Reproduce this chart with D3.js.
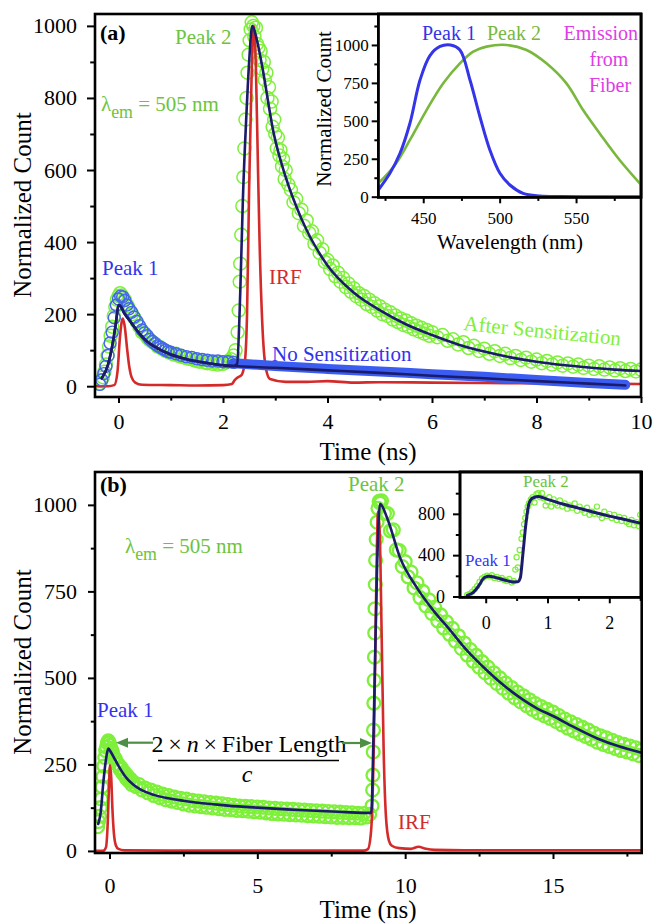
<!DOCTYPE html>
<html><head><meta charset="utf-8">
<script src="https://cdn.jsdelivr.net/npm/d3@7"></script>
<style>body{margin:0;background:#fff}svg{display:block}</style>
</head><body><svg id="c" width="656" height="924"></svg>
<script>
// ---------------- Panel (a) data ----------------
const irfA = [[-0.45,0],[-0.2,0],[-0.08,3],[-0.02,40],[0.03,140],[0.08,188],[0.12,165],[0.16,110],[0.2,60],[0.25,25],[0.32,10],[0.45,4],[1.0,3],[1.5,2],[2.0,3],[2.17,6],[2.22,16],[2.28,24],[2.36,32],[2.42,70],[2.46,200],[2.5,550],[2.55,880],[2.59,1000],[2.63,880],[2.67,600],[2.7,400],[2.75,180],[2.82,50],[2.9,20],[3.2,12],[3.6,12],[4,14],[4.5,10],[5,11],[6,10],[7,9],[8,8],[9,7],[10,6]];
const fitA_after = [[-0.32,22],[-0.2,60],[-0.1,128],[-0.05,175],[0,225],[0.05,220],[0.1,205],[0.2,185],[0.3,165],[0.5,130],[0.75,105],[1.0,88],[1.25,77],[1.5,69],[1.75,63],[2.0,58],[2.2,56],[2.27,62],[2.33,260],[2.38,517],[2.45,760],[2.5,900],[2.56,1000],[2.65,960],[2.75,887],[2.97,702],[3.2,580],[3.5,465],[4,335],[4.5,260],[5,211],[5.5,172],[6,142],[6.5,116],[7,96],[7.5,80],[8,68],[8.5,59],[9,52],[9.5,46],[10,42]];
const fitA_noSens = [[-0.32,22],[-0.2,60],[-0.1,128],[-0.05,175],[0,225],[0.05,220],[0.1,205],[0.2,185],[0.3,165],[0.5,130],[0.75,105],[1.0,88],[1.25,77],[1.5,69],[1.75,63],[2.0,58],[2.2,56],[3,51],[4,44],[5,37],[6,29],[7,22],[8,14],[9,7],[9.7,2]];
const greenA = [[-0.36,8],[-0.33,15],[-0.3,25],[-0.27,40],[-0.24,60],[-0.21,85],[-0.18,110],[-0.15,140],[-0.12,165],[-0.09,195],[-0.06,220],[-0.03,240],[0.0,250],[0.03,258],[0.06,252],[0.09,245],[0.12,240],[0.15,228],[0.18,222],[0.22,210],[0.26,200],[0.3,190],[0.35,178],[0.4,165],[0.45,150],[0.5,145],[0.55,135],[0.6,128],[0.65,122],[0.7,118],[0.75,110],[0.8,108],[0.85,102],[0.9,98],[0.95,95],[1.0,92],[1.05,88],[1.1,90],[1.15,84],[1.2,82],[1.25,80],[1.3,78],[1.35,76],[1.4,78],[1.45,72],[1.5,70],[1.55,68],[1.6,72],[1.65,66],[1.7,64],[1.75,68],[1.8,62],[1.85,66],[1.9,60],[1.95,64],[2.0,62],[2.05,66],[2.1,70],[2.15,75],[2.2,85],[2.24,100],
 [2.28,150],[2.3,210],[2.32,290],[2.33,340],[2.35,420],[2.37,500],[2.39,580],[2.41,660],[2.43,740],[2.45,800],[2.47,870],[2.49,920],[2.51,960],[2.53,990],[2.55,1010],
 [2.58,1000],[2.6,970],[2.63,995],[2.65,950],[2.68,940],[2.7,905],[2.72,930],[2.75,880],[2.78,900],[2.8,850],[2.83,870],[2.85,800],[2.88,830],[2.9,770],[2.93,790],[2.95,720],[2.98,740],[3.0,700],[3.03,660],[3.05,690],[3.08,640],[3.1,655],[3.13,610],[3.15,630],[3.18,575],[3.2,600],[3.25,560],[3.3,545],[3.35,510],[3.4,520],[3.45,480],[3.5,490],[3.55,445],[3.6,460],[3.65,425],[3.7,430],[3.75,395],[3.8,405],[3.85,370],[3.9,380],[3.95,345],[4.0,350],[4.05,325],[4.1,335],[4.15,305],[4.2,315],[4.25,290],[4.3,300],[4.35,275],[4.4,285],[4.45,262],[4.5,272],[4.55,250],[4.6,258],[4.65,240],[4.7,250],[4.75,228],[4.8,240],[4.85,220],[4.9,230],[4.95,210],[5.0,222],[5.05,200],[5.1,212],[5.15,195],[5.2,205],[5.25,185],[5.3,196],[5.35,178],[5.4,188],[5.45,170],[5.5,182],[5.55,165],[5.6,175],[5.65,158],[5.7,168],[5.75,152],[5.8,162],[5.85,146],[5.9,156],[5.95,140],[6.0,150],[6.1,136],[6.2,142],[6.3,126],[6.4,130],[6.5,116],[6.6,122],[6.7,106],[6.8,112],[6.9,98],[7.0,104],[7.1,90],[7.2,97],[7.3,84],[7.4,90],[7.5,78],[7.6,84],[7.7,73],[7.8,79],[7.9,68],[8.0,74],[8.1,64],[8.2,70],[8.3,60],[8.4,66],[8.5,57],[8.6,63],[8.7,54],[8.8,60],[8.9,51],[9.0,57],[9.1,48],[9.2,55],[9.3,46],[9.4,52],[9.5,44],[9.6,50],[9.7,42],[9.8,48],[9.9,41],[10.0,46]];
const blueA = [[-0.36,5],[-0.32,18],[-0.28,35],[-0.24,55],[-0.2,85],[-0.16,120],[-0.12,150],[-0.08,190],[-0.04,225],[0,242],[0.04,250],[0.08,248],[0.12,238],[0.16,225],[0.2,215],[0.25,205],[0.3,192],[0.35,180],[0.4,168],[0.45,156],[0.5,148],[0.55,140],[0.6,130],[0.65,124],[0.7,118],[0.75,112],[0.8,108],[0.85,104],[0.9,100],[0.95,96],[1.0,94],[1.1,90],[1.2,86],[1.3,82],[1.4,80],[1.5,76],[1.6,74],[1.7,72],[1.8,70],[1.9,70],[2.0,68],[2.1,68],[2.2,66]];
const blueA_tail = [[2.2,64],[3,56],[4,48],[5,41],[6,33],[7,26],[8,17],[9,9],[9.7,4]];
const ticksA_x = [0,2,4,6,8,10], minorA_x = [1,3,5,7,9];
const ticksA_y = [0,200,400,600,800,1000], minorA_y = [100,300,500,700,900];

// ---------------- Inset (a) data: emission spectra ----------------
const specPeak1 = [[420.6,44],[428.2,154],[434.8,286],[441.3,484],[447.9,769],[454.4,930],[461,990],[467.9,1000],[474,967],[480.6,769],[487.1,527],[493.6,308],[500.2,154],[506.7,77],[515.4,22],[526.3,5],[540,1],[560,0],[592.7,0]];
const specPeak2 = [[420.6,88],[431.5,209],[441.3,374],[452.2,571],[463.1,747],[474,879],[482.7,956],[491.4,989],[504.5,1000],[517.6,967],[530.6,879],[543.7,747],[554.6,571],[565.5,417],[578.5,242],[592.7,77]];
const ticksIA_x = [450,500,550], minorIA_x = [425,475,525,575];
const ticksIA_y = [0,250,500,750,1000], minorIA_y = [125,375,625,875,1125];

// ---------------- Panel (b) data ----------------
const irfB = [[-0.45,0],[-0.22,0],[-0.12,10],[-0.06,80],[-0.02,180],[0.02,248],[0.06,210],[0.1,120],[0.15,50],[0.22,15],[0.3,6],[0.5,2],[2,1],[5,1],[8.6,1],[8.74,5],[8.85,60],[8.95,350],[9.02,750],[9.08,980],[9.14,920],[9.2,650],[9.27,300],[9.35,100],[9.45,30],[9.55,15],[9.8,8],[10.2,6],[10.45,12],[10.7,6],[11,3],[12,2],[18,2]];
const fitB = [[-0.38,78],[-0.3,110],[-0.2,205],[-0.1,275],[-0.04,296],[0.05,285],[0.2,262],[0.4,232],[0.6,208],[0.8,192],[1.0,180],[1.5,162],[2,152],[2.5,145],[3,139],[3.5,135],[4,131],[5,125],[6,120],[7,116],[8,112],[8.85,110],[8.95,420],[9.05,820],[9.15,1003],[9.4,960],[9.82,849],[10.4,760],[10.95,695],[11.5,640],[12.08,580],[12.6,535],[13.2,488],[13.8,448],[14.5,410],[15,390],[15.68,359],[16.5,325],[17.2,303],[18,284]];
const greenB = [[-0.4,70],[-0.37,85],[-0.34,100],[-0.31,125],[-0.28,150],[-0.25,185],[-0.22,215],[-0.19,245],[-0.16,270],[-0.13,290],[-0.1,300],[-0.07,312],[-0.04,318],[-0.01,312],[0.02,305],[0.05,296],[0.08,290],[0.11,282],[0.15,272],[0.2,266],[0.25,252],[0.3,250],[0.35,236],[0.4,240],[0.45,224],[0.5,228],[0.55,212],[0.6,218],[0.65,202],[0.7,208],[0.75,192],[0.8,200],[0.9,186],[1.0,192],[1.1,176],[1.2,182],[1.3,168],[1.4,176],[1.5,160],[1.6,170],[1.7,154],[1.8,164],[1.9,148],[2.0,160],[2.1,144],[2.2,156],[2.3,140],[2.4,152],[2.5,136],[2.6,150],[2.7,132],[2.8,146],[2.9,130],[3.0,144],[3.1,128],[3.2,142],[3.3,126],[3.4,140],[3.5,124],[3.6,138],[3.7,122],[3.8,136],[3.9,120],[4.0,134],[4.1,119],[4.2,132],[4.3,117],[4.4,130],[4.5,116],[4.6,129],[4.7,115],[4.8,128],[4.9,113],[5.0,127],[5.1,112],[5.2,126],[5.3,110],[5.4,124],[5.5,108],[5.6,123],[5.7,107],[5.8,122],[5.9,106],[6.0,121],[6.1,105],[6.2,120],[6.3,104],[6.4,119],[6.5,103],[6.6,118],[6.7,102],[6.8,117],[6.9,101],[7.0,116],[7.1,100],[7.2,115],[7.3,99],[7.4,114],[7.5,98],[7.6,113],[7.7,97],[7.8,112],[7.9,97],[8.0,111],[8.1,96],[8.2,110],[8.3,96],[8.4,109],[8.5,95],[8.6,108],[8.7,98],[8.8,106],
 [8.88,130],[8.9,176],[8.91,219],[8.92,286],[8.93,349],[8.94,427],[8.95,493],[8.96,560],[8.97,630],[8.98,700],[8.99,770],[9.0,840],[9.02,900],[9.05,950],[9.08,990],[9.12,1010],[9.16,1005],
 [9.2,1012],[9.3,975],[9.4,975],[9.5,925],[9.6,928],[9.7,870],[9.8,868],[9.9,822],[10.0,836],[10.1,792],[10.2,806],[10.3,760],[10.4,775],[10.5,732],[10.6,750],[10.7,708],[10.8,726],[10.9,686],[11.0,704],[11.1,665],[11.2,682],[11.3,644],[11.4,662],[11.5,626],[11.6,643],[11.7,606],[11.8,622],[11.9,585],[12.0,601],[12.1,566],[12.2,582],[12.3,548],[12.4,565],[12.5,531],[12.6,547],[12.7,515],[12.8,531],[12.9,499],[13.0,515],[13.1,484],[13.2,500],[13.3,470],[13.4,485],[13.5,456],[13.6,472],[13.7,443],[13.8,459],[13.9,431],[14.0,448],[14.1,420],[14.2,437],[14.3,409],[14.4,426],[14.5,399],[14.6,417],[14.7,391],[14.8,409],[14.9,383],[15.0,401],[15.1,374],[15.2,391],[15.3,364],[15.4,381],[15.5,355],[15.6,373],[15.7,347],[15.8,365],[15.9,339],[16.0,357],[16.1,331],[16.2,349],[16.3,323],[16.4,340],[16.5,314],[16.6,333],[16.7,308],[16.8,327],[16.9,302],[17.0,320],[17.1,296],[17.2,313],[17.3,290],[17.4,308],[17.5,286],[17.6,303],[17.7,281],[17.8,298],[17.9,276],[18.0,292]];
const ticksB_x = [0,5,10,15], minorB_x = [2.5,7.5,12.5,17.5];
const ticksB_y = [0,250,500,750,1000], minorB_y = [125,375,625,875];

// ---------------- Inset (b) data ----------------
const fitBi = [[-0.3,10],[-0.2,40],[-0.1,115],[-0.05,165],[0,190],[0.05,195],[0.15,185],[0.3,160],[0.45,141],[0.52,142],[0.56,180],[0.6,400],[0.65,700],[0.7,900],[0.75,950],[0.85,968],[1.0,940],[1.25,895],[1.5,855],[1.75,815],[2.0,778],[2.25,745],[2.5,710]];
const greenBi = [[-0.3,15],[-0.26,25],[-0.22,45],[-0.18,70],[-0.14,100],[-0.1,140],[-0.06,175],[-0.02,190],[0.02,200],[0.06,195],[0.1,205],[0.14,180],[0.18,190],[0.22,170],[0.26,180],[0.3,160],[0.34,150],[0.38,170],[0.42,135],[0.45,150],[0.48,260],[0.5,380],[0.52,280],[0.55,450],[0.58,560],[0.6,620],[0.62,700],[0.64,760],[0.66,820],[0.68,870],[0.7,900],[0.73,940],[0.76,960],[0.79,910],[0.82,990],[0.85,1000],[0.88,960],[0.91,1000],[0.94,950],[0.97,880],[1.0,920],[1.03,960],[1.06,870],[1.1,940],[1.13,900],[1.16,880],[1.2,930],[1.24,870],[1.28,900],[1.32,850],[1.36,880],[1.4,860],[1.44,900],[1.48,830],[1.52,870],[1.56,840],[1.6,810],[1.64,860],[1.68,790],[1.72,820],[1.76,800],[1.8,870],[1.84,790],[1.88,760],[1.92,820],[1.96,780],[2.0,800],[2.04,760],[2.08,790],[2.12,740],[2.16,770],[2.2,730],[2.24,760],[2.28,720],[2.32,700],[2.36,740],[2.4,690],[2.44,720],[2.48,680],[2.5,790]];
const ticksIB_x = [0,1,2], minorIB_x = [0.5,1.5,2.5];
const ticksIB_y = [0,400,800], minorIB_y = [200,600,1000];

// ---------------- Colours ----------------
const C = {navy:'#1b1b6b', red:'#d42a2a', lime:'#7ef03a', blueC:'#4466ee', band:'#3a5cf0',
  greenTxt:'#6cc43c', blueTxt:'#3333ee', magenta:'#e03ce6', specBlue:'#3434e8', specGreen:'#78b83c', arrow:'#4f8f45'};
const FONT = 'Liberation Serif';
const svg = d3.select('#c');

function frame(x, y, fill) {
  const [a,b] = x.range(), [c,d] = y.range();
  return svg.append('rect').attr('x',a).attr('y',d).attr('width',b-a).attr('height',c-d)
    .attr('fill', fill || 'none').attr('stroke','#000').attr('stroke-width',2.6);
}
function axis(gen, tr, vals, size, pad, fs, labels) {
  const g = svg.append('g').attr('transform', tr)
    .call(gen.tickValues(vals).tickSize(size).tickPadding(pad).tickSizeOuter(0)
      .tickFormat(labels ? d3.format('d') : ''));
  g.attr('font-family', null);
  g.select('.domain').remove();
  g.selectAll('line').attr('stroke','#000').attr('stroke-width',2);
  g.selectAll('text').attr('font-size',fs).style('font-family',FONT).attr('fill','#000');
  return g;
}
function axesFor(x, y, o) {
  const yb = y.range()[0], xl = x.range()[0];
  axis(d3.axisBottom(x), `translate(0,${yb})`, o.xMaj, o.xt, o.xpad, o.fs, true);
  axis(d3.axisBottom(x), `translate(0,${yb})`, o.xMin, o.xt*0.6, 0, o.fs, false);
  axis(d3.axisLeft(y), `translate(${xl},0)`, o.yMaj, o.yt, o.ypad, o.fs, true);
  axis(d3.axisLeft(y), `translate(${xl},0)`, o.yMin, o.yt*0.6, 0, o.fs, false);
}
let clipN = 0;
function clipG(x, y) {
  const id = 'cl' + (clipN++);
  const [a,b] = x.range(), [c,d] = y.range();
  svg.append('clipPath').attr('id',id).append('rect').attr('x',a).attr('y',d).attr('width',b-a).attr('height',c-d);
  return svg.append('g').attr('clip-path',`url(#${id})`);
}
function line(g, x, y, data, color, w, curve) {
  const l = d3.line().x(d=>x(d[0])).y(d=>y(d[1])).curve(curve || d3.curveMonotoneX);
  return g.append('path').datum(data).attr('d', l).attr('fill','none').attr('stroke',color)
    .attr('stroke-width',w).attr('stroke-linejoin','round').attr('stroke-linecap','round');
}
function circles(g, x, y, data, color, r, w) {
  g.append('g').selectAll('circle').data(data).join('circle')
    .attr('cx',d=>x(d[0])).attr('cy',d=>y(d[1])).attr('r',r)
    .attr('fill','none').attr('stroke',color).attr('stroke-width',w);
}
function txt(x, y, s, o) {
  o = o || {};
  return svg.append('text').attr('x',x).attr('y',y).text(s)
    .attr('font-size',o.fs||21).attr('fill',o.fill||'#000').style('font-family',FONT)
    .attr('text-anchor',o.anchor||'start').attr('font-weight',o.bold?'bold':null)
    .attr('font-style',o.italic?'italic':null);
}
function rtxt(tr, s, fs, fill) {
  return svg.append('text').attr('transform',tr).attr('text-anchor','middle')
    .attr('font-size',fs).style('font-family',FONT).attr('fill',fill||'#000').text(s);
}
function lambda(x, y, color, fs) {
  const t = svg.append('text').attr('x',x).attr('y',y).attr('font-size',fs).attr('fill',color).style('font-family',FONT);
  t.append('tspan').text('λ');
  t.append('tspan').text('em').attr('dy',7).attr('font-size',fs*0.85);
  t.append('tspan').text(' = 505 nm').attr('dy',-7);
}

// ================= Panel (a) =================
const xA = d3.scaleLinear().domain([-0.45,10]).range([95,641]);
const yA = d3.scaleLinear().domain([-30,1033]).range([397,14]);
{
  const g = clipG(xA, yA);
  circles(g, xA, yA, greenA, C.lime, 6.5, 1.5);
  line(g, xA, yA, irfA, C.red, 2.6);
  circles(g, xA, yA, blueA, C.blueC, 6, 1.4);
  line(g, xA, yA, blueA_tail, C.band, 10);
  line(g, xA, yA, fitA_noSens, C.navy, 2.6);
  line(g, xA, yA, fitA_after, C.navy, 2.6);
}
axesFor(xA, yA, {xMaj:ticksA_x, xMin:minorA_x, yMaj:ticksA_y, yMin:minorA_y, xt:6, yt:8, xpad:10, ypad:10, fs:22});
frame(xA, yA);
txt(368, 460, 'Time (ns)', {fs:25, anchor:'middle'});
rtxt('translate(31,205) rotate(-90)', 'Normalized Count', 25);
txt(100, 40, '(a)', {fs:22, bold:true});
txt(175, 44, 'Peak 2', {fill:C.greenTxt});
lambda(101, 111, C.greenTxt, 21);
txt(102, 275, 'Peak 1', {fill:C.blueTxt});
txt(269, 284, 'IRF', {fill:C.red});
txt(272, 361, 'No Sensitization', {fill:C.blueTxt});
svg.append('text').attr('transform','translate(463,330) rotate(5.6)').attr('font-size',21)
  .style('font-family',FONT).attr('fill',C.lime).text('After Sensitization');

// ---- Inset (a) ----
const xIA = d3.scaleLinear().domain([420.6,592.5]).range([378.3,641]);
const yIA = d3.scaleLinear().domain([-4,1204]).range([197.3,14]);
frame(xIA, yIA, '#fff');
{
  const g = clipG(xIA, yIA);
  line(g, xIA, yIA, specPeak2, C.specGreen, 2.6, d3.curveCatmullRom);
  line(g, xIA, yIA, specPeak1, C.specBlue, 3, d3.curveCatmullRom);
}
axesFor(xIA, yIA, {xMaj:ticksIA_x, xMin:minorIA_x, yMaj:ticksIA_y, yMin:minorIA_y, xt:6, yt:6.6, xpad:9, ypad:3, fs:17});
frame(xIA, yIA);
txt(510, 249, 'Wavelength (nm)', {fs:21, anchor:'middle'});
rtxt('translate(331,109) rotate(-90)', 'Normalized Count', 21);
txt(422, 40, 'Peak 1', {fill:C.specBlue, fs:20});
txt(487, 40, 'Peak 2', {fill:C.specGreen, fs:20});
txt(638, 40, 'Emission', {fill:C.magenta, fs:20, anchor:'end'});
txt(609, 66, 'from', {fill:C.magenta, fs:20, anchor:'middle'});
txt(610, 92, 'Fiber', {fill:C.magenta, fs:20, anchor:'middle'});

// ================= Panel (b) =================
const xB = d3.scaleLinear().domain([-0.49,18.0]).range([95,641.7]);
const yB = d3.scaleLinear().domain([-6,1095]).range([853,472]);
{
  const g = clipG(xB, yB);
  circles(g, xB, yB, greenB, C.lime, 6.4, 2.3);
  line(g, xB, yB, irfB, C.red, 2.6);
  line(g, xB, yB, fitB, C.navy, 2.6);
}
axesFor(xB, yB, {xMaj:ticksB_x, xMin:minorB_x, yMaj:ticksB_y, yMin:minorB_y, xt:6, yt:7, xpad:18, ypad:11, fs:22});
frame(xB, yB);
txt(368, 918, 'Time (ns)', {fs:25, anchor:'middle'});
rtxt('translate(31,662) rotate(-90)', 'Normalized Count', 25);
txt(100, 492, '(b)', {fs:22, bold:true});
txt(348, 491, 'Peak 2', {fill:C.greenTxt});
lambda(125, 553, C.greenTxt, 21);
txt(97, 717, 'Peak 1', {fill:C.blueTxt});
txt(398, 829, 'IRF', {fill:C.red});
// fraction annotation
{
  const t = svg.append('text').attr('x',249).attr('y',752).attr('text-anchor','middle')
    .attr('font-size',24).style('font-family',FONT);
  t.append('tspan').text('2\u2009×\u2009');
  t.append('tspan').text('n').attr('font-style','italic');
  t.append('tspan').text('\u2009×\u2009Fiber Length');
  svg.append('line').attr('x1',158).attr('x2',339).attr('y1',760.5).attr('y2',760.5).attr('stroke','#000').attr('stroke-width',1.4);
  txt(247, 782, 'c', {fs:24, italic:true, anchor:'middle'});
  const arrow = (x1, x2, y) => {
    const dir = Math.sign(x2 - x1);
    svg.append('line').attr('x1',x1).attr('x2',x2 - dir*9).attr('y1',y).attr('y2',y).attr('stroke',C.arrow).attr('stroke-width',2.2);
    svg.append('path').attr('d',`M${x2},${y} L${x2-dir*12},${y-5} L${x2-dir*12},${y+5} Z`).attr('fill',C.arrow);
  };
  arrow(153, 116, 742.7);
  arrow(342, 372, 743);
}

// ---- Inset (b) ----
const xIB = d3.scaleLinear().domain([-0.416,2.513]).range([460,641]);
const yIB = d3.scaleLinear().domain([-8,1205]).range([597.3,472]);
frame(xIB, yIB, '#fff');
{
  const g = clipG(xIB, yIB);
  circles(g, xIB, yIB, greenBi, C.lime, 2.6, 1.2);
  line(g, xIB, yIB, fitBi, C.navy, 3);
}
axesFor(xIB, yIB, {xMaj:ticksIB_x, xMin:minorIB_x, yMaj:ticksIB_y, yMin:minorIB_y, xt:6, yt:7, xpad:13, ypad:8, fs:18});
frame(xIB, yIB);
txt(465, 566, 'Peak 1', {fill:C.blueTxt, fs:17});
txt(523, 487, 'Peak 2', {fill:C.greenTxt, fs:17});
</script></body></html>
